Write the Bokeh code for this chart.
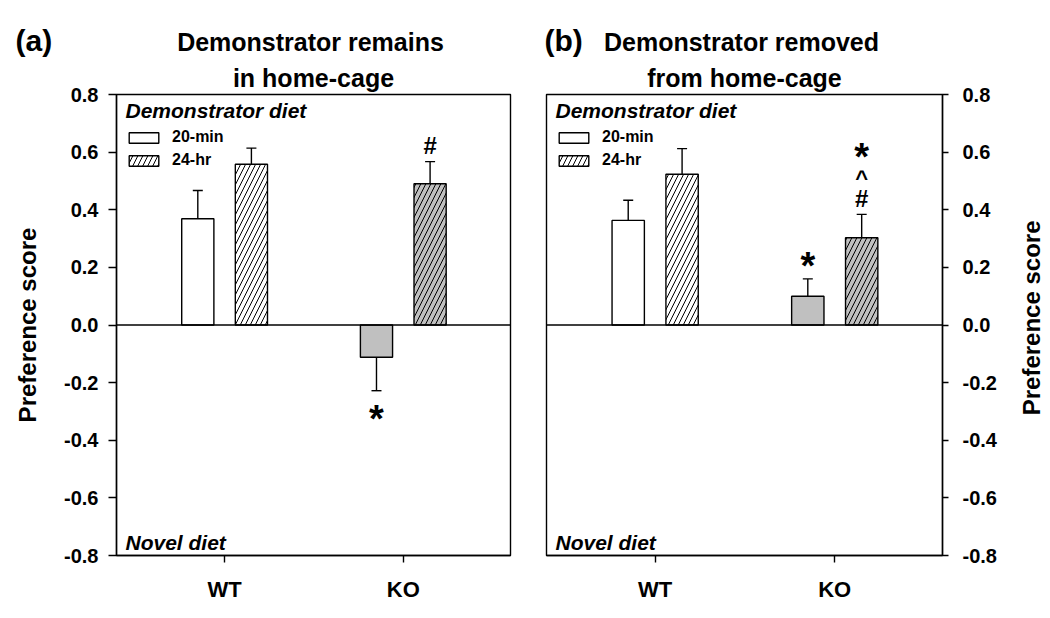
import math
from bokeh.plotting import figure
from bokeh.models import Range1d, FixedTicker, Span, Label, Legend, LegendItem
from bokeh.layouts import row, column
from bokeh.embed import file_html
from bokeh.resources import INLINE
from bokeh.core.properties import value

# ---------------- data ----------------
categories = ["WT", "KO"]
series_labels = ["20-min", "24-hr"]

remains_20min = [0.369, -0.112]
remains_20min_err = [0.098, 0.116]
remains_24hr = [0.558, 0.490]
remains_24hr_err = [0.056, 0.077]

removed_20min = [0.363, 0.100]
removed_20min_err = [0.070, 0.060]
removed_24hr = [0.523, 0.303]
removed_24hr_err = [0.089, 0.081]

y_ticks = [-0.8, -0.6, -0.4, -0.2, 0.0, 0.2, 0.4, 0.6, 0.8]
y_tick_labels = ["-0.8", "-0.6", "-0.4", "-0.2", "0.0", "0.2", "0.4", "0.6", "0.8"]
y_axis_title = "Preference score"

panel_letters = ["(a)", "(b)"]
panel_titles = [["Demonstrator remains", "in home-cage"],
                ["Demonstrator removed", "from home-cage"]]

# significance marks: (category, series, symbols from bar outward)
remains_marks = [("KO", "20-min", ["*"]), ("KO", "24-hr", ["#"])]
removed_marks = [("KO", "20-min", ["*"]), ("KO", "24-hr", ["#", "^", "*"])]

# ---------------- style ----------------
FONT = "Liberation Sans"
GRAY = "#c0c0c0"
X0, X1 = 0.395, 2.6
Y0, Y1 = -0.8, 0.8
OFF = 0.15
BAR_W = 0.18
LW = 1.4
# symbol: (font px, glyph centre above text anchor, first gap from cap)
MARK_STYLE = {"*": (38, 5, 18), "#": (24, -2, 14), "^": (22, 2, 14)}
MARK_PITCH = 24

STRIP_H = 58
BORDER_TOP = 36
FRAME_H = 461
BORDER_BOTTOM = 53
PANEL_H = BORDER_TOP + FRAME_H + BORDER_BOTTOM
PA_W, PA_BL, PA_BR = 528, 116, 18
PB_W, PB_BL, PB_BR = 474, 18, 60
RS_W = 48
TOTAL_W = PA_W + PB_W + RS_W


def label(p, x, y, text, size, xo=0, yo=0, align="left", baseline="alphabetic", style="bold"):
    p.add_layout(Label(x=x, y=y, x_offset=xo, y_offset=yo, text=text,
                       text_font=FONT, text_font_size=f"{size}px",
                       text_font_style=style, text_align=align,
                       text_baseline=baseline, text_color="black"))


def make_panel(title2, m20, e20, m24, e24, marks, side, width, bl, br):
    p = figure(width=width, height=PANEL_H, x_range=Range1d(X0, X1), y_range=Range1d(Y0, Y1),
               output_backend="svg", toolbar_location=None, y_axis_location=side,
               min_border_left=bl, min_border_right=br, min_border_top=BORDER_TOP,
               min_border_bottom=BORDER_BOTTOM)
    p.title.text = title2
    p.title.align = "center"
    p.title.text_font = FONT
    p.title.text_font_size = "25px"
    p.title.text_font_style = "bold"
    p.title.text_color = "black"
    p.title.standoff = 6
    p.title.offset = -3
    p.xgrid.visible = False
    p.ygrid.visible = False
    p.outline_line_color = "black"
    p.outline_line_width = LW
    p.background_fill_color = "white"

    xs = [i + 1 for i in range(len(categories))]
    x20 = [x - OFF for x in xs]
    x24 = [x + OFF for x in xs]
    fills = ["white", GRAY]

    r20 = p.vbar(x=x20, top=m20, bottom=0, width=BAR_W, fill_color=fills,
                 line_color="black", line_width=LW)
    r24 = p.vbar(x=x24, top=m24, bottom=0, width=BAR_W, fill_color=fills,
                 line_color="black", line_width=LW, hatch_pattern="/",
                 hatch_color="black", hatch_scale=10, hatch_weight=1)

    # error bars (one-sided, away from zero)
    ex, ey0, ey1 = [], [], []
    for xv, mv, ev in list(zip(x20, m20, e20)) + list(zip(x24, m24, e24)):
        ex.append(xv)
        ey0.append(mv)
        ey1.append(mv + math.copysign(ev, mv))
    p.segment(x0=ex, y0=ey0, x1=ex, y1=ey1, line_color="black", line_width=LW)
    p.scatter(x=ex, y=ey1, marker="dash", size=10, line_color="black", line_width=LW)

    p.add_layout(Span(location=0, dimension="width", line_color="black", line_width=LW))

    # significance marks
    for cat, ser, syms in marks:
        i = categories.index(cat)
        if ser == series_labels[0]:
            xv, mv, ev = x20[i], m20[i], e20[i]
        else:
            xv, mv, ev = x24[i], m24[i], e24[i]
        end = mv + math.copysign(ev, mv)
        for k, s in enumerate(syms):
            size, ch, gap = MARK_STYLE[s]
            if mv >= 0:
                centre = MARK_STYLE[syms[0]][2] + MARK_PITCH * k
            else:
                centre = -23 - MARK_PITCH * k
            label(p, xv, end, s, size, yo=centre - ch, align="center")

    # legend
    legend = Legend(items=[LegendItem(label=series_labels[0], renderers=[r20], index=0),
                           LegendItem(label=series_labels[1], renderers=[r24], index=0)],
                    location=(9, 386), glyph_width=37, glyph_height=13,
                    label_height=13, spacing=5, padding=0, margin=0,
                    label_standoff=10, border_line_alpha=0, background_fill_alpha=0,
                    label_text_font=FONT, label_text_font_size="16px",
                    label_text_font_style="bold", label_text_color="black")
    p.add_layout(legend)

    # texts inside the frame
    label(p, X0, Y1, "Demonstrator diet", 21, xo=9, yo=-4, baseline="top", style="bold italic")
    label(p, X0, Y0, "Novel diet", 21, xo=9, yo=13, style="bold italic")

    # axes
    p.xaxis.ticker = FixedTicker(ticks=xs)
    p.xaxis.major_label_overrides = {x: c for x, c in zip(xs, categories)}
    p.xaxis.major_label_text_font = FONT
    p.xaxis.major_label_text_font_size = "22px"
    p.xaxis.major_label_text_font_style = "bold"
    p.xaxis.major_label_text_color = "black"
    p.xaxis.major_tick_out = 7
    p.xaxis.major_tick_in = 0
    p.xaxis.minor_tick_line_color = None
    p.xaxis.major_label_standoff = 14
    p.xaxis.axis_line_color = "black"
    p.xaxis.axis_line_width = LW
    p.xaxis.major_tick_line_width = LW

    p.yaxis.ticker = FixedTicker(ticks=y_ticks)
    p.yaxis.major_label_overrides = {t: s for t, s in zip(y_ticks, y_tick_labels)}
    p.yaxis.major_label_text_font = FONT
    p.yaxis.major_label_text_font_size = "20px"
    p.yaxis.major_label_text_font_style = "bold"
    p.yaxis.major_label_text_color = "black"
    p.yaxis.major_tick_out = 8 if side == "left" else 6
    p.yaxis.major_tick_in = 0
    p.yaxis.minor_tick_line_color = None
    p.yaxis.major_label_standoff = 10 if side == "left" else 14
    p.yaxis.axis_line_color = "black"
    p.yaxis.axis_line_width = LW
    p.yaxis.major_tick_line_width = LW
    if side == "left":
        p.yaxis.axis_label = y_axis_title
        p.yaxis.axis_label_text_font = FONT
        p.yaxis.axis_label_text_font_size = "24px"
        p.yaxis.axis_label_text_font_style = "bold"
        p.yaxis.axis_label_text_color = "black"
        p.yaxis.axis_label_standoff = 20
    return p


def blank(width, height):
    s = figure(width=width, height=height, x_range=Range1d(0, width),
               y_range=Range1d(height, 0), output_backend="svg", toolbar_location=None,
               x_axis_type=None, y_axis_type=None, min_border=0)
    s.outline_line_color = None
    s.xgrid.visible = False
    s.ygrid.visible = False
    return s


pa = make_panel(panel_titles[0][1], remains_20min, remains_20min_err, remains_24hr,
                remains_24hr_err, remains_marks, "left", PA_W, PA_BL, PA_BR)
pb = make_panel(panel_titles[1][1], removed_20min, removed_20min_err, removed_24hr,
                removed_24hr_err, removed_marks, "right", PB_W, PB_BL, PB_BR)

# ---------------- title strip (pixel coordinates, y downward) ----------------
strip = blank(TOTAL_W, STRIP_H)
frame_left = [PA_BL, PA_W + PB_BL]
frame_right = [PA_W - PA_BR, PA_W + PB_W - PB_BR]
centres = [(l + r) / 2 - 3 for l, r in zip(frame_left, frame_right)]
letter_x = [15, frame_left[1] - 2]

strip.text(x=letter_x, y=[23, 23], text=panel_letters, text_font=value(FONT),
           text_font_size="30px", text_font_style="bold", text_color="black",
           text_align="left", text_baseline="top")
strip.text(x=centres, y=[27, 27], text=[t[0] for t in panel_titles], text_font=value(FONT),
           text_font_size="25px", text_font_style="bold", text_color="black",
           text_align="center", text_baseline="top")

# ---------------- right axis title strip ----------------
rstrip = blank(RS_W, PANEL_H)
rstrip.text(x=[29], y=[BORDER_TOP + FRAME_H / 2], text=[y_axis_title], text_font=value(FONT),
            text_font_size="24px", text_font_style="bold", text_color="black",
            text_align="center", text_baseline="middle", angle=math.pi / 2)

layout = column(strip, row(pa, pb, rstrip))
open("out.html", "w").write(file_html(layout, INLINE))
